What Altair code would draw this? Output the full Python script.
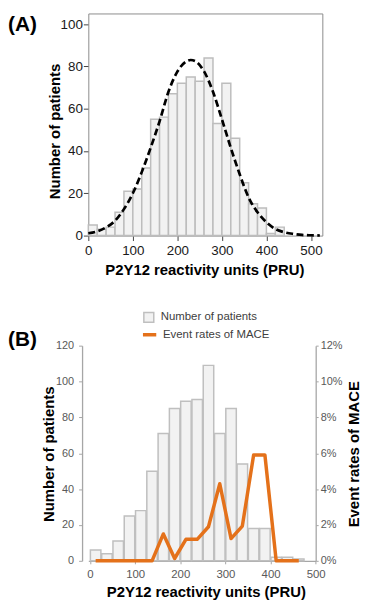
import altair as alt
import pandas as pd

FONT = "Liberation Sans"

# ---------------- Panel A data ----------------
a_bin_start = [0, 20, 40, 60, 80, 100, 120, 140, 160, 180, 200, 220, 240, 260,
               280, 300, 320, 340, 360, 380, 400, 420]
a_bin_width = 20
a_counts = [5, 3, 4, 11, 21, 22, 32, 55, 56, 67, 72, 75, 73, 84,
            53, 72, 46, 25, 15, 13, 1, 4]
a_curve_x = [0, 20, 40, 60, 80, 100, 120, 140, 160, 180, 200, 220, 230, 240,
             260, 280, 300, 320, 340, 360, 380, 400, 420, 440, 460, 480, 500, 520]
a_curve_y = [1.1, 2.0, 3.9, 7.0, 12.5, 20, 30, 41.5, 54, 68, 77.5, 82.3, 83, 82.5,
             77.6, 68, 55, 41.5, 29, 18, 11, 6.3, 3.1, 1.6, 0.8, 0.3, 0.15, 0.05]
a_x_ticks = [0, 100, 200, 300, 400, 500]
a_y_ticks = [0, 20, 40, 60, 80, 100]

# ---------------- Panel B data ----------------
b_bin_start = [0, 25, 50, 75, 100, 125, 150, 175, 200, 225, 250, 275, 300,
               325, 350, 375, 400, 425, 450]
b_bin_width = 25
b_counts = [6, 4, 11, 25, 28, 50, 71, 85, 89, 90, 109, 71, 85, 54, 18, 18, 2, 2, 1]
b_rate_x = [12.5, 37.5, 62.5, 87.5, 112.5, 137.5, 162.5, 187.5, 212.5, 237.5,
            262.5, 287.5, 312.5, 337.5, 362.5, 387.5, 412.5, 437.5, 462.5]
b_rate_pct = [0, 0, 0, 0, 0, 0, 1.5, 0.13, 1.2, 1.2, 1.9, 4.3, 1.24, 1.94,
              5.9, 5.9, 0, 0, 0]
b_x_ticks = [0, 100, 200, 300, 400, 500]
b_yl_ticks = [0, 20, 40, 60, 80, 100, 120]
b_yr_ticks = [0, 2, 4, 6, 8, 10, 12]
series_bar = "Number of patients"
series_line = "Event rates of MACE"

x_title = "P2Y12 reactivity units (PRU)"
y_title = "Number of patients"

# ---------------- Panel A ----------------
dfA_bars = pd.DataFrame({"start": a_bin_start,
                         "end": [s + a_bin_width for s in a_bin_start],
                         "count": a_counts})
dfA_curve = pd.DataFrame({"start": a_curve_x, "count": a_curve_y})

FRAME = "#8c8c8c"
xA = alt.Scale(domain=[0, 525.6], nice=False, zero=False, padding=0)
yA = alt.Scale(domain=[0, 105], nice=False, padding=0)

axA_x = alt.Axis(values=a_x_ticks, title=x_title, grid=False, domain=True,
                 domainColor=FRAME, domainWidth=1,
                 ticks=True, tickSize=5, tickColor="#444444", tickWidth=1,
                 labelFont=FONT, labelFontSize=13.5, labelColor="#1a1a1a",
                 labelPadding=14, labelBaseline="alphabetic", labelFlush=False,
                 labelOverlap=False,
                 titleFont=FONT, titleFontSize=15, titleFontWeight="bold",
                 titleColor="black", titleBaseline="alphabetic", titleAlign="center",
                 titleX=117, titleY=39)
axA_y = alt.Axis(values=a_y_ticks, title=y_title, grid=False, domain=True,
                 domainColor=FRAME, domainWidth=1,
                 ticks=True, tickSize=5, tickColor="#444444", tickWidth=1,
                 labelFont=FONT, labelFontSize=13.5, labelColor="#1a1a1a",
                 labelPadding=1, labelBaseline="middle", labelOverlap=False,
                 titleFont=FONT, titleFontSize=15, titleFontWeight="bold",
                 titleColor="black", titleAngle=270, titleBaseline="alphabetic",
                 titleAlign="center", titleX=-28.9, titleY=118.5)
# frame: top and right edges drawn as label-less axes
axA_top = alt.Axis(orient="top", title=None, labels=False, ticks=False, grid=False,
                   domain=True, domainColor=FRAME, domainWidth=1, minExtent=0)
axA_right = alt.Axis(orient="right", title=None, labels=False, ticks=False, grid=False,
                     domain=True, domainColor=FRAME, domainWidth=1, minExtent=0)

barsA = alt.Chart(dfA_bars).mark_bar(fill="#f2f2f2", stroke="#bdbdbd", strokeWidth=1.5).encode(
    x=alt.X("start:Q", scale=xA, axis=axA_x),
    x2="end:Q",
    y=alt.Y("count:Q", scale=yA, axis=axA_y),
    y2=alt.datum(0),
)
curveA = alt.Chart(dfA_curve).mark_line(color="black", strokeWidth=2.7,
                                        strokeDash=[7, 3.5], interpolate="monotone").encode(
    x=alt.X("start:Q", scale=xA, axis=axA_top),
    y=alt.Y("count:Q", scale=yA, axis=axA_right),
)
labelA = alt.Chart(pd.DataFrame({"t": ["(A)"]})).mark_text(
    align="left", baseline="alphabetic", fontSize=21, fontWeight="bold",
    font=FONT, color="black").encode(text="t:N", x=alt.value(-81), y=alt.value(17.6))

panelA = alt.layer(barsA, curveA, labelA).resolve_axis(
    x="independent", y="independent").properties(width=236, height=224)

# ---------------- Panel B ----------------
dfB_bars = pd.DataFrame({"start": b_bin_start,
                         "end": [s + b_bin_width for s in b_bin_start],
                         "count": b_counts,
                         "series": [series_bar] * len(b_counts)})
dfB_line = pd.DataFrame({"mid": b_rate_x, "rate": b_rate_pct,
                         "series": [series_line] * len(b_rate_pct)})

xB = alt.Scale(domain=[-3.7, 500], nice=False, zero=False, padding=0)
yB = alt.Scale(domain=[0, 120], nice=False, padding=0)
yR = alt.Scale(domain=[0, 12], nice=False, padding=0)
GRAY = "#a6a6a6"
LBL = "#595959"

axB_x = alt.Axis(values=b_x_ticks, title=x_title, grid=False, domain=True,
                 domainColor=GRAY, domainWidth=1.3, ticks=True, tickSize=3,
                 tickColor=GRAY, labelFont=FONT, labelFontSize=11.5, labelColor=LBL,
                 labelPadding=13.6, labelBaseline="alphabetic", labelFlush=False,
                 labelOverlap=False,
                 titleFont=FONT, titleFontSize=15, titleFontWeight="bold",
                 titleColor="black", titleBaseline="alphabetic", titleAlign="center",
                 titleX=118.5, titleY=36)
axB_yl = alt.Axis(values=b_yl_ticks, orient="left", offset=6.3, title=y_title, grid=False,
                  domain=True, domainColor=GRAY, domainWidth=1.3, ticks=True,
                  tickSize=3.5, tickColor=GRAY, labelFont=FONT, labelFontSize=11,
                  labelColor=LBL, labelPadding=5, labelBaseline="middle",
                  labelOverlap=False,
                  titleFont=FONT, titleFontSize=15, titleFontWeight="bold",
                  titleColor="black", titleAngle=270, titleBaseline="alphabetic",
                  titleAlign="center", titleX=-29.2, titleY=109)
axB_yr = alt.Axis(values=b_yr_ticks, orient="right", title=series_line, grid=False,
                  domain=True, domainColor=GRAY, domainWidth=1.3, ticks=True,
                  tickSize=2.5, tickColor=GRAY, labelFont=FONT, labelFontSize=11,
                  labelColor=LBL, labelPadding=2, labelBaseline="middle",
                  labelOverlap=False, labelExpr="datum.value + '%'",
                  titleFont=FONT, titleFontSize=15, titleFontWeight="bold",
                  titleColor="black", titleAngle=270, titleBaseline="alphabetic",
                  titleAlign="center", titleX=43.4, titleY=109)

barsB = alt.Chart(dfB_bars).mark_bar(stroke="#bfbfbf", strokeWidth=1.5,
                                     xOffset=0.4, x2Offset=-0.4).encode(
    x=alt.X("start:Q", scale=xB, axis=axB_x),
    x2="end:Q",
    y=alt.Y("count:Q", scale=yB, axis=axB_yl),
    y2=alt.datum(0),
    fill=alt.Fill("series:N",
                  scale=alt.Scale(domain=[series_bar], range=["#f2f2f2"]),
                  legend=alt.Legend(title=None, orient="none", legendX=55,
                                    legendY=-34.5, padding=0, symbolType="square",
                                    symbolSize=100, symbolStrokeColor="#bfbfbf",
                                    symbolStrokeWidth=1.5, labelFont=FONT,
                                    labelFontSize=11.5, labelColor="#404040",
                                    labelOffset=6)),
)
lineB = alt.Chart(dfB_line).mark_line(strokeWidth=3.5, strokeJoin="round").encode(
    x=alt.X("mid:Q", scale=xB, axis=axB_x),
    y=alt.Y("rate:Q", scale=yR, axis=axB_yr),
    stroke=alt.Stroke("series:N",
                      scale=alt.Scale(domain=[series_line], range=["#e4711a"]),
                      legend=alt.Legend(title=None, orient="none", legendX=53.3,
                                        legendY=-19.5, padding=0, symbolType="stroke",
                                        symbolSize=180, symbolStrokeWidth=3.5,
                                        labelFont=FONT, labelFontSize=11.5,
                                        labelColor="#404040", labelOffset=5)),
)
labelB = alt.Chart(pd.DataFrame({"t": ["(B)"]})).mark_text(
    align="left", baseline="alphabetic", fontSize=21, fontWeight="bold",
    font=FONT, color="black").encode(text="t:N", x=alt.value(-81), y=alt.value(0.6))

panelB = alt.layer(barsB, lineB, labelB).resolve_scale(
    y="independent", fill="independent", stroke="independent").properties(
    width=229.3, height=217)

chart = alt.vconcat(panelA, panelB, spacing=34).properties(
    padding={"left": 0, "top": 3, "right": 0, "bottom": 0},
    background="white",
).configure(font=FONT).configure_view(stroke=None)

chart.save("out.html", embed_options={"renderer": "svg", "actions": False})
